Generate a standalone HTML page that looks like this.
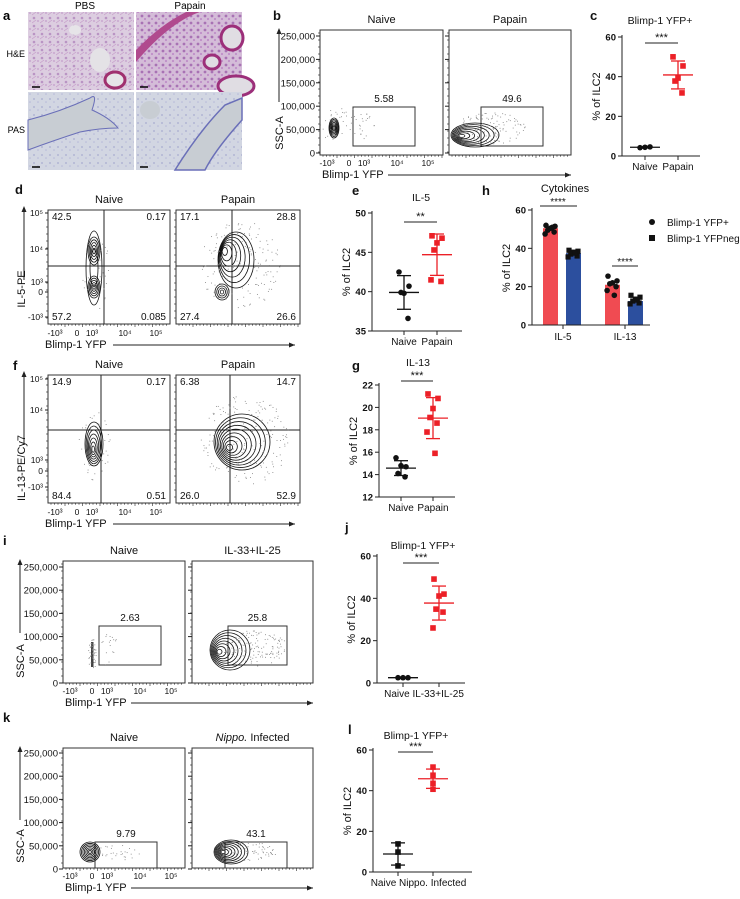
<!DOCTYPE html>
<html><head><meta charset="utf-8"><style>
html,body{margin:0;padding:0;background:#fff;}
svg{display:block;font-family:"Liberation Sans",sans-serif;}
</style></head><body>
<svg id="fig" width="740" height="899" viewBox="0 0 740 899" xmlns="http://www.w3.org/2000/svg">
<defs>
<pattern id="heTex" width="8" height="8" patternUnits="userSpaceOnUse"><rect width="8" height="8" fill="#dccde0"/><circle cx="2" cy="2" r="1.3" fill="#b994c4"/><circle cx="6" cy="5" r="1" fill="#c8a6cf"/><path d="M0 7 L4 4" stroke="#c59ac8" stroke-width="0.6"/></pattern>
<pattern id="heTex2" width="7" height="7" patternUnits="userSpaceOnUse"><rect width="7" height="7" fill="#d4bcd8"/><circle cx="2" cy="2" r="1.4" fill="#a872b4"/><circle cx="5" cy="5" r="1.1" fill="#bf8ec8"/></pattern>
<pattern id="pasTex" width="8" height="8" patternUnits="userSpaceOnUse"><rect width="8" height="8" fill="#d2d6e2"/><circle cx="2" cy="3" r="0.9" fill="#a8acd0"/><circle cx="6" cy="6" r="0.8" fill="#b6b8d8"/></pattern>
</defs>
<g id="panelA">
<text x="3" y="20" font-size="13" font-weight="bold">a</text>
<text x="85" y="9" font-size="10" text-anchor="middle">PBS</text>
<text x="190" y="9" font-size="10" text-anchor="middle">Papain</text>
<text x="25" y="57" font-size="9" text-anchor="end">H&amp;E</text>
<text x="25" y="133" font-size="9" text-anchor="end">PAS</text>
<g><rect x="28" y="12" width="106" height="78" fill="url(#heTex)"/>
<ellipse cx="100" cy="60" rx="10" ry="12" fill="#e4e2e6"/><ellipse cx="115" cy="80" rx="10" ry="8" fill="#e6e4e8" stroke="#a0306f" stroke-width="3"/><ellipse cx="75" cy="30" rx="6" ry="5" fill="#e6e4e8"/>
<line x1="32" y1="87" x2="40" y2="87" stroke="#000" stroke-width="1.5"/></g>
<g><rect x="136" y="12" width="106" height="78" fill="url(#heTex2)"/>
<path d="M136 62 Q170 22 200 12 L186 12 Q160 25 136 50 Z" fill="#b04a8e"/>
<ellipse cx="232" cy="38" rx="11" ry="12" fill="#e0dde3" stroke="#9c2f7a" stroke-width="3"/>
<ellipse cx="212" cy="62" rx="8" ry="7" fill="#e0dde3" stroke="#9c2f7a" stroke-width="3"/>
<ellipse cx="236" cy="86" rx="18" ry="10" fill="#e0dde3" stroke="#9c2f7a" stroke-width="3"/>
<line x1="140" y1="87" x2="148" y2="87" stroke="#000" stroke-width="1.5"/></g>
<g><rect x="28" y="92" width="106" height="78" fill="url(#pasTex)"/>
<path d="M28 120 Q60 112 90 98 Q98 92 92 110 Q110 118 118 128 Q100 128 80 132 Q55 140 28 150 Z" fill="#c8cdd3" stroke="#6a6fb8" stroke-width="1"/>
<line x1="32" y1="167" x2="40" y2="167" stroke="#000" stroke-width="1.5"/></g>
<g><rect x="136" y="92" width="106" height="78" fill="url(#pasTex)"/>
<path d="M175 170 Q200 130 225 105 L242 98 L242 120 Q215 150 205 170 Z" fill="#c8cdd3" stroke="#6a6fb8" stroke-width="1.5"/>
<ellipse cx="150" cy="110" rx="10" ry="9" fill="#c8cdd3"/>
<line x1="140" y1="167" x2="148" y2="167" stroke="#000" stroke-width="1.5"/></g>
</g>
</svg>
<script>
// ---------- data ----------
const cGroups = ["Naive", "Papain"];
const cNaive = [4.2, 4.6, 4.4];
const cPapain = [50, 45.4, 39.3, 37.8, 31.8];
const cTicks = [0, 20, 40, 60];
const eGroups = ["Naive", "Papain"];
const eNaive = [42.5, 40.7, 39.8, 39.9, 36.6];
const ePapain = [47.1, 46.8, 46.2, 45.3, 41.3, 41.5];
const eTicks = [35, 40, 45, 50];
const gGroups = ["Naive", "Papain"];
const gNaive = [15.5, 14.7, 14.8, 14.1, 13.8];
const gPapain = [21.2, 20.8, 19.9, 19.1, 18.6, 17.8, 15.9];
const gTicks = [12, 14, 16, 18, 20, 22];
const jGroups = ["Naive", "IL-33+IL-25"];
const jNaive = [2.5, 2.5, 2.5];
const jTreated = [49.1, 42, 41.1, 34.9, 33.5, 26];
const jTicks = [0, 20, 40, 60];
const lGroups = ["Naive", "Nippo. Infected"];
const lNaive = [13.8, 9.8, 3];
const lInfected = [51.6, 47.6, 43.6, 40.7];
const lTicks = [0, 20, 40, 60];
const hCategories = ["IL-5", "IL-13"];
const hYfpPos = [50.5, 21];
const hYfpNeg = [37.5, 12.5];
const hYfpPosPts = [[52, 51.5, 50.5, 49.5, 48.5, 47.5, 51], [25.5, 23, 22, 21.5, 20, 18, 15.5]];
const hYfpNegPts = [[39, 38.5, 38, 37, 36, 35.5, 37.5], [15.5, 14.5, 13.5, 12.5, 11.5, 11, 13]];
const hTicks = [0, 20, 40, 60];
const bGates = ["5.58", "49.6"];
const dQuads = [["42.5", "0.17", "57.2", "0.085"], ["17.1", "28.8", "27.4", "26.6"]];
const fQuads = [["14.9", "0.17", "84.4", "0.51"], ["6.38", "14.7", "26.0", "52.9"]];
const iGates = ["2.63", "25.8"];
const kGates = ["9.79", "43.1"];
const sscTicks = ["250,000", "200,000", "150,000", "100,000", "50,000", "0"];
const sscValues = [250000, 200000, 150000, 100000, 50000, 0];
const logTicks = ["10\u2075", "10\u2074", "10\u00b3", "0", "-10\u00b3"];

// ---------- helpers ----------
const NS = 'http://www.w3.org/2000/svg';
const svg = document.getElementById('fig');
function mk(tag, attrs, name, parent) {
  const e = document.createElementNS(NS, tag);
  for (const k in attrs) e.setAttribute(k, attrs[k]);
  
  
  (parent || svg).appendChild(e);
  return e;
}
function txt(x, y, s, size, anchor, name, parent, extra) {
  const a = {x: x, y: y, 'font-size': size, 'text-anchor': anchor || 'start', fill: '#111'};
  if (extra) for (const k in extra) a[k] = extra[k];
  const t = mk('text', a, name, parent);
  t.textContent = s;
  return t;
}
function line(x1, y1, x2, y2, name, parent, w, col) {
  return mk('line', {x1: x1, y1: y1, x2: x2, y2: y2, stroke: col || '#222', 'stroke-width': w || 1}, name, parent);
}
function grp(name) { return mk('g', {}, name); }
function mean(a) { return a.reduce((s, v) => s + v, 0) / a.length; }
function sd(a) { const m = mean(a); return Math.sqrt(a.reduce((s, v) => s + (v - m) * (v - m), 0) / (a.length - 1)); }
const RED = '#ec2027', BLUE = '#2c4f9e';
const jit = [-5, 5, 0, -3, 4, -6, 2, 6, -2];

// ---------- dot plots ----------
function dotPlot(p) {
  const g = grp(p.name);
  const y = v => p.yBot - (v - p.vmin) / (p.vmax - p.vmin) * (p.yBot - p.yTop);
  txt(p.labelPos[0], p.labelPos[1], p.label, 13, 'start', 'panel-label', g, {'font-weight': 'bold'});
  txt(p.titleX, p.titleY, p.title, 10.5, 'middle', 'chart-title', g);
  line(p.x0, p.yTop - 2, p.x0, p.yBot, 'y-axis', g);
  line(p.x0, p.yBot, p.xEnd, p.yBot, 'x-axis', g);
  p.ticks.forEach(t => {
    line(p.x0 - 4, y(t), p.x0, y(t), 'y-tick', g);
    txt(p.x0 - 6, y(t) + 3.5, String(t), 9.5, 'end', 'y-tick-label', g, {'font-weight': 'bold'});
  });
  const cy = (p.yTop + p.yBot) / 2;
  txt(p.x0 - 22, cy, '% of ILC2', 11, 'middle', 'y-axis-title', g, {transform: 'rotate(-90 ' + (p.x0 - 22) + ' ' + cy + ')'});
  p.groups.forEach((gr, gi) => {
    const gx = p.xs[gi];
    line(gx, p.yBot, gx, p.yBot + 4, 'x-tick', g);
    if (!p.combinedLabel) txt(gx, p.yBot + 14, p.names[gi], 10, 'middle', 'x-tick-label', g);
    const col = gi === 0 ? '#111' : RED;
    const m = mean(gr), s = sd(gr);
    gr.forEach((v, i) => {
      const px = gx + (p.spread ? jit[i % jit.length] : 0);
      if (gi === 0 && !p.naiveSquare) mk('circle', {cx: px, cy: y(v), r: 2.8, fill: col}, 'data-point', g);
      else mk('rect', {x: px - 2.8, y: y(v) - 2.8, width: 5.6, height: 5.6, fill: col}, 'data-point', g);
    });
    line(gx - 15, y(m), gx + 15, y(m), 'mean-line', g, 1.3, col);
    line(gx, y(m - s), gx, y(m + s), 'error-bar', g, 1.3, col);
    line(gx - 7, y(m + s), gx + 7, y(m + s), 'error-cap', g, 1.3, col);
    line(gx - 7, y(m - s), gx + 7, y(m - s), 'error-cap', g, 1.3, col);
  });
  if (p.combinedLabel) txt((p.xs[0] + p.xs[1]) / 2 + 3, p.yBot + 14, p.combinedLabel, 10, 'middle', 'x-tick-labels', g);
  line(p.xs[0], p.sigY, p.xs[1], p.sigY, 'significance-bar', g);
  txt((p.xs[0] + p.xs[1]) / 2, p.sigY - 2, p.stars, 11, 'middle', 'significance-stars', g);
}
dotPlot({name: 'panel-c-yfp-papain', label: 'c', labelPos: [590, 20], title: 'Blimp-1 YFP+', titleX: 660, titleY: 24,
  x0: 622, xEnd: 700, yTop: 37, yBot: 156, vmin: 0, vmax: 60, ticks: cTicks, groups: [cNaive, cPapain], names: cGroups,
  xs: [645, 678], spread: true, sigY: 43, stars: '***'});
dotPlot({name: 'panel-e-il5', label: 'e', labelPos: [352, 195], title: 'IL-5', titleX: 421, titleY: 201,
  x0: 372, xEnd: 462, yTop: 213, yBot: 331, vmin: 35, vmax: 50, ticks: eTicks, groups: [eNaive, ePapain], names: eGroups,
  xs: [404, 437], spread: true, sigY: 222, stars: '**'});
dotPlot({name: 'panel-g-il13', label: 'g', labelPos: [352, 370], title: 'IL-13', titleX: 418, titleY: 366,
  x0: 379, xEnd: 455, yTop: 385, yBot: 497, vmin: 12, vmax: 22, ticks: gTicks, groups: [gNaive, gPapain], names: gGroups,
  xs: [401, 433], spread: true, sigY: 381, stars: '***'});
dotPlot({name: 'panel-j-yfp-cytokines', label: 'j', labelPos: [345, 532], title: 'Blimp-1 YFP+', titleX: 423, titleY: 549,
  x0: 377, xEnd: 465, yTop: 556, yBot: 683, vmin: 0, vmax: 60, ticks: jTicks, groups: [jNaive, jTreated], names: jGroups,
  xs: [403, 439], spread: true, sigY: 563, stars: '***', combinedLabel: 'Naive IL-33+IL-25'});
dotPlot({name: 'panel-l-yfp-nippo', label: 'l', labelPos: [348, 734], title: 'Blimp-1 YFP+', titleX: 416, titleY: 739,
  x0: 373, xEnd: 472, yTop: 750, yBot: 872, vmin: 0, vmax: 60, ticks: lTicks, groups: [lNaive, lInfected], names: lGroups,
  xs: [398, 433], spread: false, naiveSquare: true, sigY: 752, stars: '***', combinedLabel: 'Naive Nippo. Infected'});

// ---------- bar chart h ----------
(function () {
  const g = grp('panel-h-cytokines');
  const x0 = 532, xEnd = 650, yTop = 210, yBot = 325;
  const y = v => yBot - v / 60 * (yBot - yTop);
  const catX = [563, 625];
  txt(482, 195, 'h', 13, 'start', 'panel-label', g, {'font-weight': 'bold'});
  txt(565, 192, 'Cytokines', 11, 'middle', 'chart-title', g);
  hCategories.forEach((c, i) => {
    const bw = 15;
    mk('rect', {x: catX[i] - 20, y: y(hYfpPos[i]), width: bw, height: yBot - y(hYfpPos[i]), fill: '#f04b52'}, 'bar-yfp-pos', g);
    mk('rect', {x: catX[i] + 3, y: y(hYfpNeg[i]), width: bw, height: yBot - y(hYfpNeg[i]), fill: BLUE}, 'bar-yfp-neg', g);
    hYfpPosPts[i].forEach((v, k) => mk('circle', {cx: catX[i] - 12.5 + jit[k] * 0.9, cy: y(v), r: 2.8, fill: '#111'}, 'point-yfp-pos', g));
    hYfpNegPts[i].forEach((v, k) => mk('rect', {x: catX[i] + 10.5 + jit[k] * 0.9 - 2.6, y: y(v) - 2.6, width: 5.2, height: 5.2, fill: '#111'}, 'point-yfp-neg', g));
    line(catX[i], yBot, catX[i], yBot + 4, 'x-tick', g);
    txt(catX[i], yBot + 15, c, 10, 'middle', 'x-tick-label', g);
  });
  line(x0, yTop - 2, x0, yBot, 'y-axis', g);
  line(x0, yBot, xEnd, yBot, 'x-axis', g);
  hTicks.forEach(t => {
    line(x0 - 4, y(t), x0, y(t), 'y-tick', g);
    txt(x0 - 6, y(t) + 3.5, String(t), 9.5, 'end', 'y-tick-label', g, {'font-weight': 'bold'});
  });
  txt(510, 268, '% of ILC2', 11, 'middle', 'y-axis-title', g, {transform: 'rotate(-90 510 268)'});
  line(540, 206, 577, 206, 'significance-bar', g);
  txt(558, 205, '****', 10, 'middle', 'significance-stars', g);
  line(612, 266, 638, 266, 'significance-bar', g);
  txt(625, 265, '****', 10, 'middle', 'significance-stars', g);
  mk('circle', {cx: 652, cy: 222, r: 3, fill: '#111'}, 'legend-marker-yfp-pos', g);
  txt(667, 226, 'Blimp-1 YFP+', 10, 'start', 'legend-entry-yfp-pos', g);
  mk('rect', {x: 649, y: 235, width: 6, height: 6, fill: '#111'}, 'legend-marker-yfp-neg', g);
  txt(667, 242, 'Blimp-1 YFPneg', 10, 'start', 'legend-entry-yfp-neg', g);
})();

// ---------- flow plots ----------
let seed = 7;
function rnd() { seed = (seed * 16807) % 2147483647; return seed / 2147483647; }
function dust(g, cx, cy, sx, sy, n) {
  for (let i = 0; i < n; i++) {
    const a = rnd() * 6.283, r = Math.sqrt(rnd());
    mk('rect', {x: cx + Math.cos(a) * r * sx, y: cy + Math.sin(a) * r * sy, width: 0.9, height: 0.9, fill: '#888'}, 'event-dot', g);
  }
}
function contour(g, cx, cy, rx, ry, n, shx, shy) {
  for (let i = 0; i < n; i++) {
    const s = 1 - i / n;
    mk('ellipse', {cx: cx + shx * s, cy: cy + (shy || 0) * s, rx: Math.max(rx * s, 1), ry: Math.max(ry * s, 1), fill: 'none', stroke: '#111', 'stroke-width': 0.8}, 'contour-line', g);
  }
}
function xTicksRow(g, bx, y) {
  const labs = ['-10\u00b3', '0', '10\u00b3', '10\u2074', '10\u2075'];
  const xs = [bx + 7, bx + 29, bx + 44, bx + 77, bx + 108];
  labs.forEach((l, i) => txt(xs[i], y, l, 8.5, 'middle', 'x-tick-label', g));
}
function minorTicks(g, bx, bxr, by, ty0, ty1) {
  for (let x = bx + 3; x < bxr; x += 3.5) line(x, by, x, by + (Math.round((x - bx) / 3.5) % 5 === 0 ? 3 : 1.8), 'x-minor-tick', g, 0.6);
  for (let yy = ty0; yy < ty1; yy += 7) line(bx - 2, yy, bx, yy, 'y-minor-tick', g, 0.6);
}
function sscPanel(p) {
  const g = grp(p.name);
  txt(p.labelPos[0], p.labelPos[1], p.label, 13, 'start', 'panel-label', g, {'font-weight': 'bold'});
  const y = v => p.y0 - v / 250000 * (p.y0 - p.y250);
  p.boxes.forEach((b, i) => {
    mk('rect', {x: b[0], y: p.top, width: b[1] - b[0], height: p.bot - p.top, fill: 'none', stroke: '#333', 'stroke-width': 1}, 'flow-plot-frame', g);
    txt((b[0] + b[1]) / 2, p.top - 7, p.titles[i], 11, 'middle', 'flow-plot-title', g);
    minorTicks(g, b[0], b[1], p.bot, p.top + 3, p.bot);
    sscValues.forEach(v => line(b[0] - 4, y(v), b[0], y(v), 'y-tick', g));
    const gt = p.gates[i];
    mk('rect', {x: gt[0], y: gt[1], width: gt[2] - gt[0], height: gt[3] - gt[1], fill: 'none', stroke: '#333', 'stroke-width': 1}, 'gate', g);
    txt((gt[0] + gt[2]) / 2, gt[1] - 5, p.gateVals[i], 10, 'middle', 'gate-percentage', g);
  });
  sscTicks.forEach((t, i) => txt(p.boxes[0][0] - 5, y(sscValues[i]) + 3.5, t, 9.5, 'end', 'y-tick-label', g));
  xTicksRow(g, p.boxes[0][0], p.bot + 11);
  txt(p.boxes[0][0] + 2, p.bot + 23, 'Blimp-1 YFP', 11, 'start', 'x-axis-title', g);
  line(p.boxes[0][0] + 68, p.bot + 20, p.boxes[1][1], p.bot + 20, 'x-axis-arrow', g);
  mk('path', {d: 'M' + p.boxes[1][1] + ' ' + (p.bot + 20) + ' l-6 -2.5 v5 z', fill: '#222'}, 'x-axis-arrowhead', g);
  line(p.ax, p.top + 2, p.ax, p.top + 72, 'y-axis-arrow', g);
  mk('path', {d: 'M' + p.ax + ' ' + (p.top - 2) + ' l-2.5 6 h5 z', fill: '#222'}, 'y-axis-arrowhead', g);
  const ly = p.bot - 22;
  txt(p.ax + 4, ly, 'SSC-A', 11, 'middle', 'y-axis-title', g, {transform: 'rotate(-90 ' + (p.ax + 4) + ' ' + ly + ')'});
  return g;
}
// b
let gb = sscPanel({name: 'panel-b-ssc-papain', label: 'b', labelPos: [273, 20], boxes: [[320, 443], [449, 571]], top: 30, bot: 155,
  y0: 153, y250: 36, titles: ['Naive', 'Papain'], gates: [[353, 107, 415, 146], [481, 107, 543, 146]], gateVals: bGates, ax: 279});
contour(gb, 334, 128, 5, 10, 7, 0, 0); dust(gb, 345, 125, 30, 18, 60);
contour(gb, 460, 136, 24, 12, 8, 15, -1); dust(gb, 490, 128, 35, 16, 120);
// i
let gi = sscPanel({name: 'panel-i-ssc-il33', label: 'i', labelPos: [3, 545], boxes: [[63, 185], [192, 313]], top: 561, bot: 683,
  y0: 683, y250: 567, titles: ['Naive', 'IL-33+IL-25'], gates: [[99, 626, 161, 665], [228, 626, 287, 665]], gateVals: iGates, ax: 20});
mk('rect', {x: 91, y: 642, width: 2.5, height: 25, fill: '#444'}, 'event-cluster', gi); dust(gi, 92, 655, 4, 16, 40); dust(gi, 105, 650, 18, 16, 25);
contour(gi, 218, 652, 20, 20, 8, 12, -2); dust(gi, 255, 648, 32, 18, 140);
// k
let gk = sscPanel({name: 'panel-k-ssc-nippo', label: 'k', labelPos: [3, 722], boxes: [[63, 185], [192, 313]], top: 748, bot: 868,
  y0: 869, y250: 753, titles: ['Naive', 'Nippo. Infected'], gates: [[95, 842, 157, 868], [225, 842, 287, 868]], gateVals: kGates, ax: 20});
contour(gk, 90, 852, 10, 10, 7, 0, 0); dust(gk, 115, 852, 25, 8, 30);
contour(gk, 222, 852, 17, 12, 8, 9, 0); dust(gk, 250, 852, 28, 10, 60);
(function () {
  const ts = gk.querySelectorAll('text');
  ts.forEach(t => {
    if (t.textContent === 'Nippo. Infected') {
      t.textContent = '';
      const a = document.createElementNS(NS, 'tspan'); a.setAttribute('font-style', 'italic'); a.textContent = 'Nippo.';
      
      
      const b = document.createElementNS(NS, 'tspan'); b.textContent = ' Infected';
      
      
      t.appendChild(a); t.appendChild(b);
    }
  });
})();

function quadPanel(p) {
  const g = grp(p.name);
  txt(p.labelPos[0], p.labelPos[1], p.label, 13, 'start', 'panel-label', g, {'font-weight': 'bold'});
  p.boxes.forEach((b, i) => {
    mk('rect', {x: b[0], y: p.top, width: b[1] - b[0], height: p.bot - p.top, fill: 'none', stroke: '#333', 'stroke-width': 1}, 'flow-plot-frame', g);
    txt((b[0] + b[1]) / 2, p.top - 7, p.titles[i], 11, 'middle', 'flow-plot-title', g);
    minorTicks(g, b[0], b[1], p.bot, p.top + 3, p.bot);
    line(p.vx[i], p.top, p.vx[i], p.bot, 'quadrant-vertical', g);
    line(b[0], p.hy, b[1], p.hy, 'quadrant-horizontal', g);
    const q = p.quads[i];
    txt(b[0] + 4, p.top + 10, q[0], 10, 'start', 'quadrant-upper-left', g);
    txt(b[1] - 4, p.top + 10, q[1], 10, 'end', 'quadrant-upper-right', g);
    txt(b[0] + 4, p.bot - 4, q[2], 10, 'start', 'quadrant-lower-left', g);
    txt(b[1] - 4, p.bot - 4, q[3], 10, 'end', 'quadrant-lower-right', g);
  });
  logTicks.forEach((t, i) => {
    line(p.boxes[0][0] - 3, p.ty[i], p.boxes[0][0], p.ty[i], 'y-tick', g);
    txt(p.boxes[0][0] - 5, p.ty[i] + 3, t, 8.5, 'end', 'y-tick-label', g);
  });
  xTicksRow(g, p.boxes[0][0], p.bot + 12);
  txt(p.boxes[0][0] - 3, p.bot + 24, 'Blimp-1 YFP', 11, 'start', 'x-axis-title', g);
  line(p.boxes[0][0] + 65, p.bot + 21, p.boxes[1][1] - 5, p.bot + 21, 'x-axis-arrow', g);
  mk('path', {d: 'M' + (p.boxes[1][1] - 5) + ' ' + (p.bot + 21) + ' l-6 -2.5 v5 z', fill: '#222'}, 'x-axis-arrowhead', g);
  line(24, p.top, 24, p.top + 70, 'y-axis-arrow', g);
  mk('path', {d: 'M24 ' + (p.top - 4) + ' l-2.5 6 h5 z', fill: '#222'}, 'y-axis-arrowhead', g);
  const ly = p.bot - 35;
  txt(25, ly, p.ylab, 11, 'middle', 'y-axis-title', g, {transform: 'rotate(-90 25 ' + ly + ')'});
  return g;
}
let gd = quadPanel({name: 'panel-d-il5-flow', label: 'd', labelPos: [15, 194], boxes: [[48, 170], [176, 300]], top: 210, bot: 324,
  titles: ['Naive', 'Papain'], vx: [104, 232], hy: 266, quads: dQuads, ty: [213, 249, 282, 292, 317], ylab: 'IL-5-PE'});
contour(gd, 94, 251, 6, 14, 5, 0, 0); contour(gd, 94, 287, 6, 11, 5, 0, 0); contour(gd, 94, 268, 8, 37, 2, 0, 0); dust(gd, 96, 270, 14, 40, 40);
contour(gd, 223, 250, 18, 28, 7, 13, 10); contour(gd, 222, 292, 7, 8, 4, 0, 0); dust(gd, 240, 265, 40, 45, 160);
let gf = quadPanel({name: 'panel-f-il13-flow', label: 'f', labelPos: [13, 370], boxes: [[48, 170], [176, 300]], top: 375, bot: 503,
  titles: ['Naive', 'Papain'], vx: [101, 230], hy: 430, quads: fQuads, ty: [379, 410, 460, 471, 487], ylab: 'IL-13-PE/Cy7'});
contour(gf, 93, 450, 9, 22, 7, 1, -6); dust(gf, 94, 445, 16, 35, 50);
contour(gf, 228, 448, 28, 28, 9, 14, -6); dust(gf, 245, 440, 45, 45, 180);
</script>
</body></html>
